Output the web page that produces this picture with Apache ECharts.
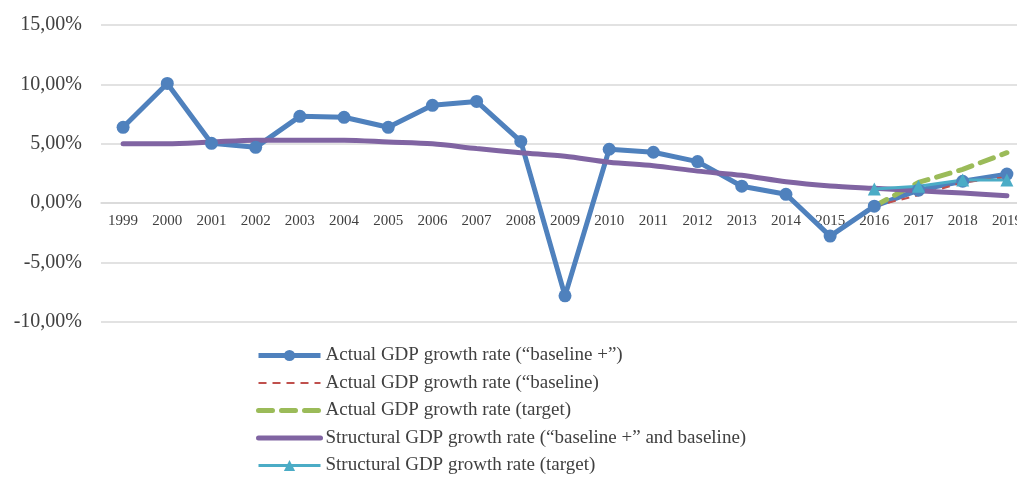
<!DOCTYPE html>
<html>
<head>
<meta charset="utf-8">
<script src="https://cdn.jsdelivr.net/npm/echarts@6/dist/echarts.min.js"></script>
<style>
  html, body { margin: 0; padding: 0; background: #fff; }
  #chart { width: 1017px; height: 477px; }
</style>
</head>
<body>
<div id="chart"></div>
<script>
const years = ['1999','2000','2001','2002','2003','2004','2005','2006','2007','2008','2009',
  '2010','2011','2012','2013','2014','2015','2016','2017','2018','2019'];
const actualBaselinePlus = [6.39, 10.08, 5.04, 4.7, 7.31, 7.23, 6.39, 8.24, 8.57, 5.2, -7.8,
  4.54, 4.29, 3.5, 1.43, 0.75, -2.77, -0.25, 1.1, 1.85, 2.45];
const actualBaseline = [null, null, null, null, null, null, null, null, null, null, null,
  null, null, null, null, null, null, -0.25, 0.67, 1.75, 2.2];
const actualTarget = [null, null, null, null, null, null, null, null, null, null, null,
  null, null, null, null, null, null, -0.25, 1.75, 2.85, 4.25];
const structural = [5.0, 5.0, 5.15, 5.3, 5.3, 5.3, 5.15, 5.0, 4.6, 4.25, 3.95,
  3.45, 3.15, 2.7, 2.35, 1.8, 1.45, 1.25, 1.05, 0.85, 0.62];
const structuralTarget = [null, null, null, null, null, null, null, null, null, null, null,
  null, null, null, null, null, null, 1.2, 1.43, 1.95, 1.95];
const names = [
  'Actual GDP growth rate (\u201cbaseline +\u201d)',
  'Actual GDP growth rate (\u201cbaseline)',
  'Actual GDP growth rate (target)',
  'Structural GDP growth rate (\u201cbaseline +\u201d and baseline)',
  'Structural GDP growth rate (target)'
];

const font = 'Liberation Serif';
const noMark = { opacity: 0 };
const chart = echarts.init(document.getElementById('chart'));
chart.setOption({
  animation: false,
  textStyle: { fontFamily: font },
  grid: { left: 101, top: 25, width: 928, height: 297, outerBoundsMode: 'none', containLabel: false },
  legend: {
    orient: 'vertical',
    left: 256,
    top: 345,
    padding: 0,
    itemWidth: 62,
    itemHeight: 14,
    itemGap: 6.5,
    textStyle: { fontFamily: font, fontSize: 19, color: '#404040', lineHeight: 21 },
    data: [
      { name: names[0], lineStyle: { width: 5 } },
      { name: names[1], itemStyle: noMark, lineStyle: { width: 2 } },
      { name: names[2], itemStyle: noMark, lineStyle: { width: 5 } },
      { name: names[3], itemStyle: noMark, lineStyle: { width: 5 } },
      { name: names[4], lineStyle: { width: 3 } }
    ]
  },
  xAxis: {
    type: 'category',
    data: years,
    offset: -119,
    axisTick: { show: false },
    axisLine: { onZero: false, lineStyle: { color: '#d9d9d9', width: 1.5 } },
    axisLabel: { fontFamily: font, fontSize: 15, color: '#404040', margin: 11 }
  },
  yAxis: {
    type: 'value',
    min: -10,
    max: 15,
    interval: 5,
    axisLine: { show: false },
    axisTick: { show: false },
    splitLine: { lineStyle: { color: '#d9d9d9', width: 1.5 } },
    axisLabel: {
      fontFamily: font, fontSize: 20, color: '#404040', margin: 19,
      formatter: v => v.toFixed(2).replace('.', ',') + '%'
    }
  },
  series: [
    {
      name: names[0], type: 'line', data: actualBaselinePlus,
      symbol: 'circle', symbolSize: 13,
      lineStyle: { color: '#4F81BD', width: 5 },
      itemStyle: { color: '#4F81BD' }
    },
    {
      name: names[1], type: 'line', data: actualBaseline,
      symbol: 'none',
      lineStyle: { color: '#C0504D', width: 2, type: [8, 6] },
      itemStyle: { color: '#C0504D' }
    },
    {
      name: names[2], type: 'line', data: actualTarget,
      symbol: 'none',
      lineStyle: { color: '#9BBB59', width: 5, type: [14, 9], cap: 'round' },
      itemStyle: { color: '#9BBB59' }
    },
    {
      name: names[3], type: 'line', data: structural,
      symbol: 'none', smooth: 0.3,
      lineStyle: { color: '#8064A2', width: 5, cap: 'round' },
      itemStyle: { color: '#8064A2' }
    },
    {
      name: names[4], type: 'line', data: structuralTarget,
      symbol: 'triangle', symbolSize: 13,
      lineStyle: { color: '#4BACC6', width: 3 },
      itemStyle: { color: '#4BACC6' }
    }
  ]
});
</script>
</body>
</html>
